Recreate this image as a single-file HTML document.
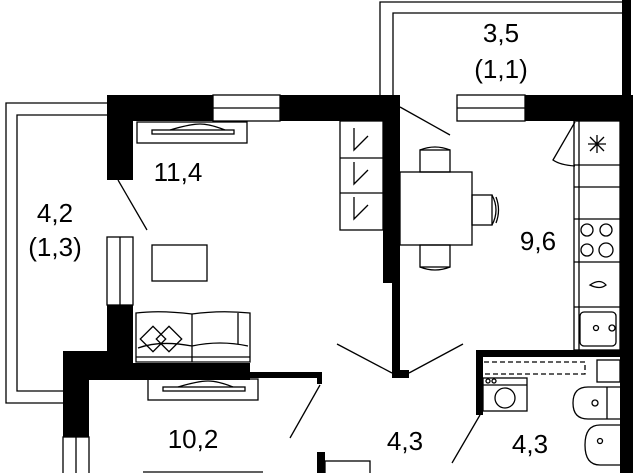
<!DOCTYPE html>
<html><head><style>
html,body{margin:0;padding:0;background:#fff;}
svg{display:block;}
text{font-family:"Liberation Sans",sans-serif;font-size:26px;fill:#000;text-anchor:middle;}
</style></head><body>
<svg width="640" height="473" viewBox="0 0 640 473" xmlns="http://www.w3.org/2000/svg">
<g fill="none" stroke="#000" stroke-width="1.3">
<polyline points="107,103 6,103 6,403 63,403"/>
<polyline points="107,115 17,115 17,391 63,391"/>
<polyline points="380,95 380,2 622,2"/>
<polyline points="393,95 393,13 622,13"/>
<rect x="213" y="95" width="67" height="26"/><line x1="213" y1="108" x2="280" y2="108"/>
<rect x="457" y="95" width="68" height="26"/><line x1="457" y1="108" x2="525" y2="108"/>
<rect x="107" y="237" width="26" height="68"/><line x1="120" y1="237" x2="120" y2="305"/>
<rect x="63" y="437" width="26" height="40"/><line x1="76" y1="437" x2="76" y2="473"/>
<rect x="137" y="122" width="110" height="21"/>
<rect x="152" y="130" width="82" height="4"/>
<path d="M170 130 Q190 124 200 124 Q210 124 225 130"/>
<rect x="148" y="379" width="110" height="21"/>
<rect x="163" y="387" width="82" height="4"/>
<path d="M178 387 Q198 381 208 381 Q218 381 233 387"/>
<line x1="118" y1="180" x2="147" y2="230"/>
<line x1="400" y1="107" x2="450" y2="135"/>
<line x1="337" y1="344" x2="392" y2="373"/>
<line x1="409" y1="373" x2="463" y2="344"/>
<line x1="480" y1="415" x2="452" y2="463"/>
<line x1="320" y1="385" x2="290" y2="438"/>
<path d="M575 122 L553 160 Q560 165 575 166"/>
<rect x="152" y="245" width="55" height="36"/>
<path d="M136 313 Q160 310 192 314 Q220 310 250 313 L250 362 L136 362 Z"/>
<line x1="136" y1="357" x2="250" y2="357"/>
<line x1="192" y1="314" x2="192" y2="362"/>
<line x1="238" y1="313" x2="238" y2="344"/>
<path d="M138 348 Q160 340 192 346 Q220 340 248 346"/>
<rect x="144" y="330" width="18" height="18" transform="rotate(45 153 339)"/>
<rect x="160" y="330" width="18" height="18" transform="rotate(45 169 339)"/>
<rect x="340" y="121" width="43" height="109"/>
<line x1="340" y1="158" x2="383" y2="158"/><line x1="340" y1="193" x2="383" y2="193"/>
<path d="M354 128 L354 150 L368 136 M354 162 L354 184 L368 170 M354 197 L354 219 L368 205"/>
<rect x="400" y="172" width="72" height="73"/>
<rect x="420" y="150" width="30" height="22"/><path d="M420 150 Q435 144 450 150"/>
<rect x="472" y="195" width="20" height="30"/><path d="M492 195 Q500 210 492 225 M496 197 Q501 210 496 223"/>
<rect x="420" y="245" width="30" height="22"/><path d="M420 267 Q435 273 450 267"/>
<rect x="574" y="121" width="46" height="229"/>
<line x1="579" y1="121" x2="579" y2="350"/>
<line x1="574" y1="165" x2="620" y2="165"/>
<line x1="574" y1="187" x2="620" y2="187"/>
<line x1="574" y1="219" x2="620" y2="219"/>
<line x1="574" y1="262" x2="620" y2="262"/>
<line x1="574" y1="307" x2="620" y2="307"/>
<path d="M590 137 L604 151 M604 137 L590 151 M597 135 L597 153 M588 144 L606 144"/>
<circle cx="587" cy="230" r="6"/><circle cx="606" cy="230" r="6"/>
<circle cx="587" cy="250" r="6"/><circle cx="606" cy="250" r="7"/>
<path d="M590 285 Q600 278 606 285 Q600 290 590 285Z"/>
<rect x="580" y="312" width="36" height="34" rx="4"/>
<circle cx="596" cy="328" r="2.5"/><circle cx="612" cy="328" r="3"/>
<rect x="483" y="378" width="44" height="33"/><line x1="483" y1="385" x2="527" y2="385"/>
<circle cx="505" cy="398" r="10"/>
<circle cx="488" cy="381" r="2"/><circle cx="494" cy="381" r="2"/>
<path d="M620 387 L588 387 Q573 387 573 403 Q573 419 588 419 L620 419" />
<line x1="607" y1="387" x2="607" y2="419"/>
<circle cx="595" cy="403" r="3"/>
<path d="M620 425 L600 425 Q585 425 585 445 Q585 465 600 465 L620 465"/>
<circle cx="600" cy="441" r="2.5"/>
<rect x="597" y="360" width="23" height="22"/>
<path stroke-dasharray="5,3" d="M484 362 L585 362 L585 374 L484 374"/>
<line x1="143" y1="472" x2="263" y2="472"/>
<rect x="325" y="461" width="45" height="14"/>
</g>
<g fill="#000">
<rect x="107" y="95" width="106" height="26"/>
<rect x="107" y="95" width="26" height="85"/>
<rect x="280" y="95" width="120" height="26"/>
<rect x="383" y="95" width="17" height="188"/>
<rect x="392" y="283" width="8" height="95"/>
<rect x="392" y="370" width="17" height="8"/>
<rect x="525" y="95" width="108" height="26"/>
<rect x="620" y="95" width="13" height="378"/>
<rect x="622" y="0" width="9" height="95"/>
<rect x="107" y="305" width="26" height="58"/>
<rect x="63" y="351" width="70" height="29"/>
<rect x="63" y="351" width="26" height="86"/>
<rect x="89" y="363" width="161" height="17"/>
<rect x="250" y="372" width="72" height="6"/>
<rect x="317" y="372" width="5" height="12"/>
<rect x="317" y="452" width="8" height="21"/>
<rect x="476" y="350" width="150" height="7"/>
<rect x="476" y="350" width="7" height="65"/>
</g>
<text x="178" y="181">11,4</text>
<text x="55" y="222">4,2</text>
<text x="55" y="256">(1,3)</text>
<text x="501" y="42">3,5</text>
<text x="501" y="78">(1,1)</text>
<text x="538" y="250">9,6</text>
<text x="193" y="448">10,2</text>
<text x="405" y="450">4,3</text>
<text x="530" y="453">4,3</text>
</svg>
</body></html>
